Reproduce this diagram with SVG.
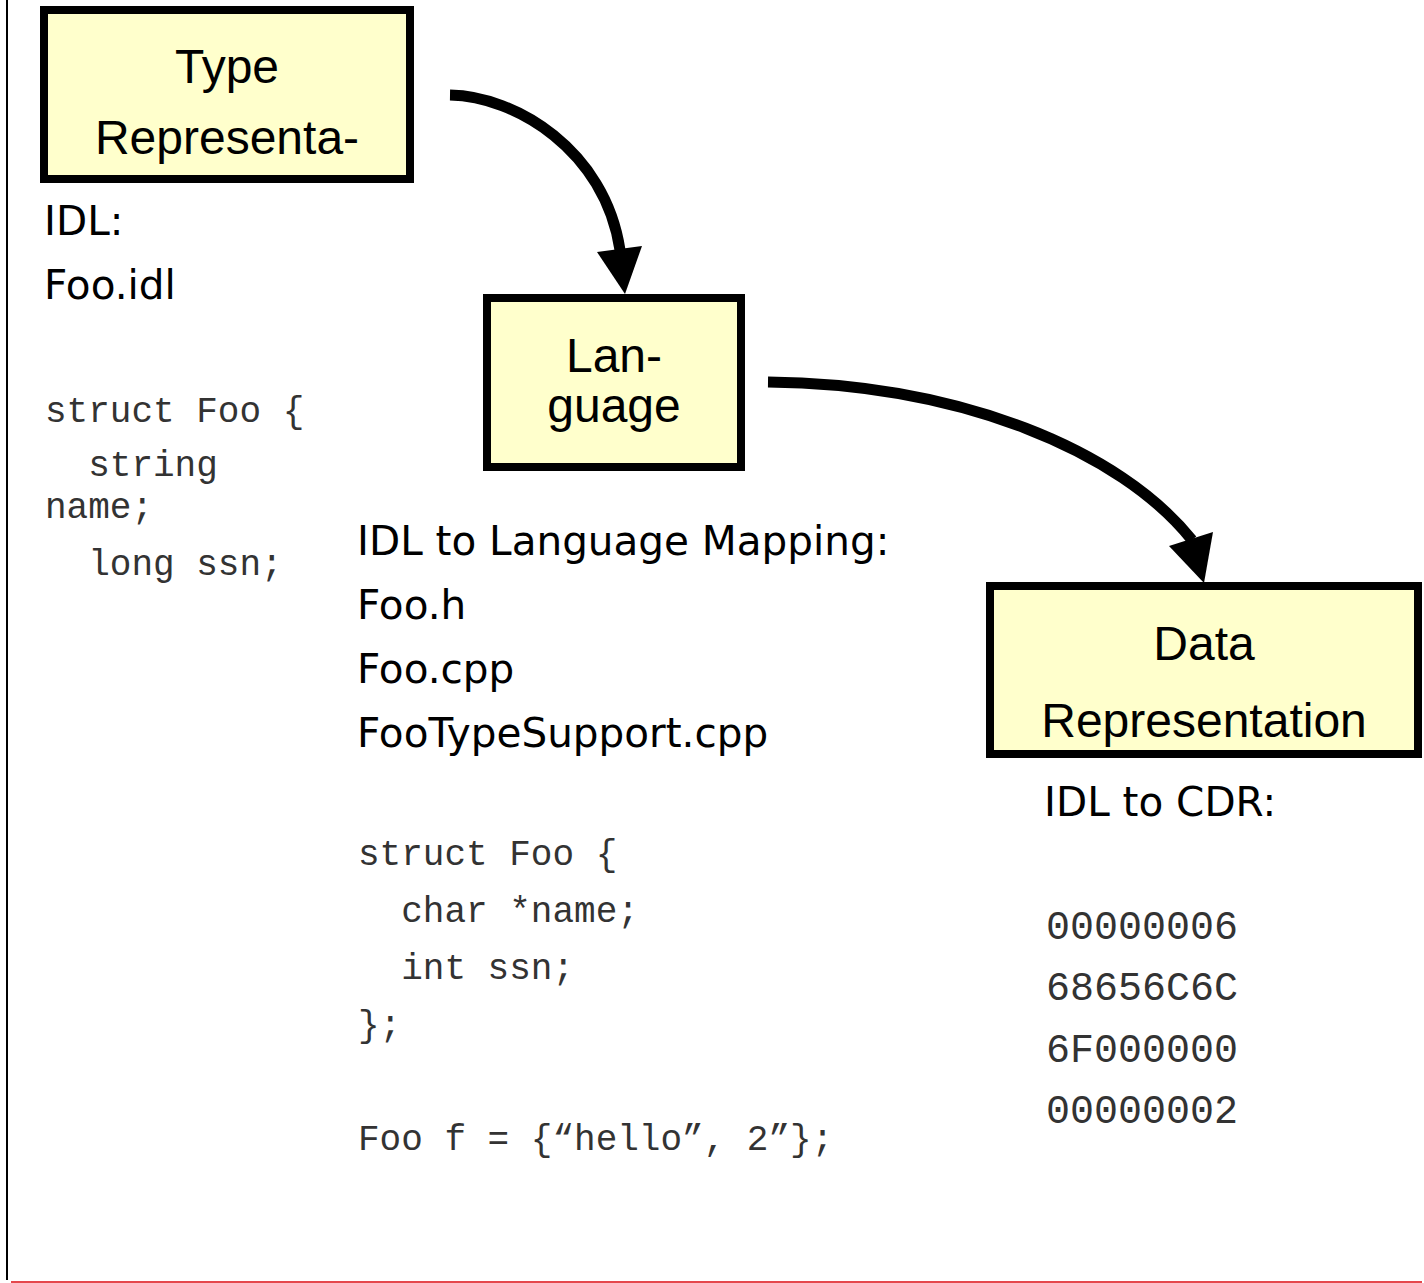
<svg xmlns="http://www.w3.org/2000/svg" width="1424" height="1283" viewBox="0 0 1424 1283">
<style>
.box{fill:#FFFFCC;stroke:#000;stroke-width:8}
.bt{font-family:"Liberation Sans",Arial,sans-serif;font-size:48px;fill:#000;text-anchor:middle}
.lbl{font-family:"DejaVu Sans",Verdana,sans-serif;font-size:40.5px;fill:#000}
.code{font-family:"Liberation Mono","Courier New",monospace;font-size:36px;fill:#333}
.hex{font-family:"Liberation Mono","Courier New",monospace;font-size:40px;fill:#333}
.conn{fill:none;stroke:#000;stroke-width:11}
.head{fill:#000}
</style>
<rect width="1424" height="1283" fill="#fff"/>
<line x1="7" y1="0" x2="7" y2="1280" stroke="#000" stroke-width="2"/>
<line x1="11" y1="1282" x2="1422" y2="1282" stroke="#E5484D" stroke-width="2"/>
<g id="connectors">
<path class="conn" d="M450,95 C515,96 605,150 620,250"/>
<polygon class="head" points="597,252 642,246 625,294"/>
<path class="conn" d="M768,382 C960,384 1120,450 1192,540"/>
<polygon class="head" points="1169,546 1213,532 1204,583"/>
</g>
<g id="type-representation">
<rect class="box" x="44" y="10" width="366" height="169"/>
<text class="bt" x="227" y="83">Type</text>
<text class="bt" x="227" y="154">Representa-</text>
</g>
<g id="language">
<rect class="box" x="487" y="298" width="254" height="169"/>
<text class="bt" x="614" y="372">Lan-</text>
<text class="bt" x="614" y="422">guage</text>
</g>
<g id="data-representation">
<rect class="box" x="990" y="586" width="428" height="168"/>
<text class="bt" x="1204" y="660">Data</text>
<text class="bt" x="1204" y="737">Representation</text>
</g>
<g id="idl-text">
<text class="lbl" x="44" y="235">IDL:</text>
<text class="lbl" x="44" y="299">Foo.idl</text>
<text class="code" x="45" y="422" xml:space="preserve">struct Foo {</text>
<text class="code" x="45" y="476" xml:space="preserve">  string</text>
<text class="code" x="45" y="518" xml:space="preserve">name;</text>
<text class="code" x="45" y="575" xml:space="preserve">  long ssn;</text>
</g>
<g id="mapping-text">
<text class="lbl" x="357" y="555">IDL to Language Mapping:</text>
<text class="lbl" x="357" y="619">Foo.h</text>
<text class="lbl" x="357" y="683">Foo.cpp</text>
<text class="lbl" x="357" y="747">FooTypeSupport.cpp</text>
<text class="code" x="358" y="865" xml:space="preserve">struct Foo {</text>
<text class="code" x="358" y="922" xml:space="preserve">  char *name;</text>
<text class="code" x="358" y="979" xml:space="preserve">  int ssn;</text>
<text class="code" x="358" y="1036" xml:space="preserve">};</text>
<text class="code" x="358" y="1150" xml:space="preserve">Foo f = {“hello”, 2”};</text>
</g>
<g id="cdr-text">
<text class="lbl" x="1044" y="816">IDL to CDR:</text>
<text class="hex" x="1046" y="939">00000006</text>
<text class="hex" x="1046" y="1000">68656C6C</text>
<text class="hex" x="1046" y="1062">6F000000</text>
<text class="hex" x="1046" y="1123">00000002</text>
</g>
</svg>
